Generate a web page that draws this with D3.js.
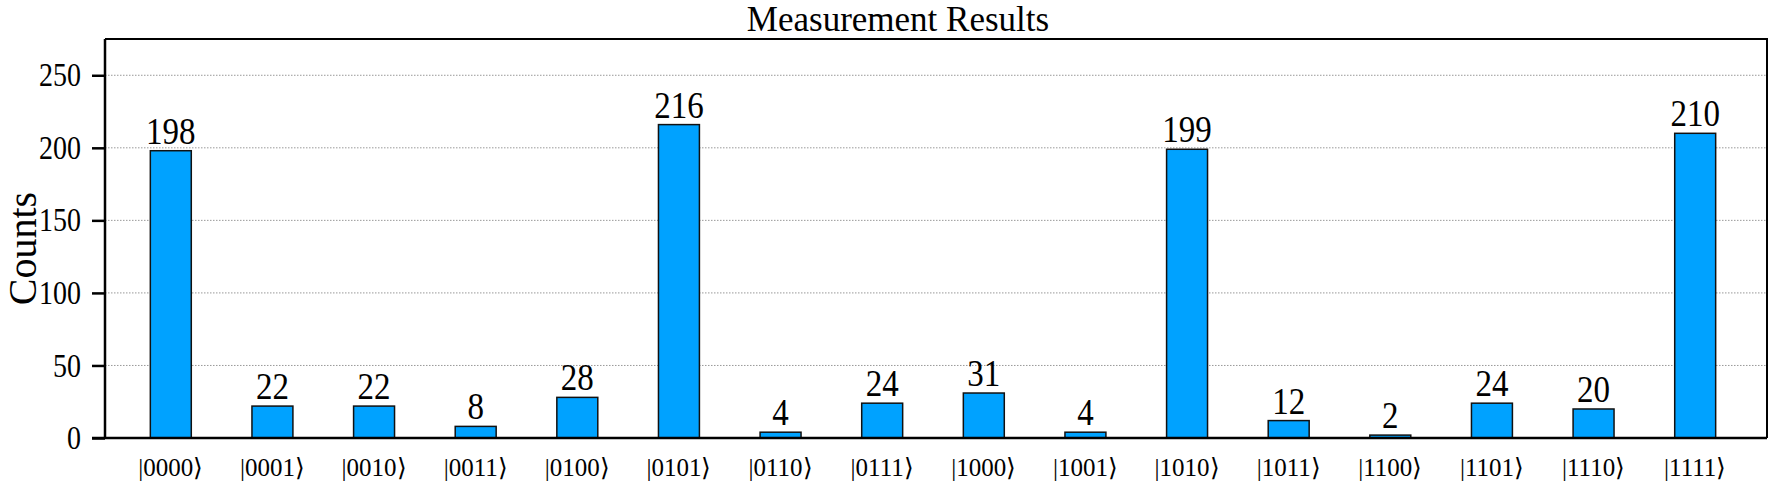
<!DOCTYPE html>
<html><head><meta charset="utf-8">
<script src="https://cdn.jsdelivr.net/npm/d3@7"></script>
<style>body{margin:0;background:#fff}svg{display:block}text{font-family:"Liberation Serif","Times New Roman",serif}</style>
</head><body><svg id="c" width="1770" height="484"></svg>
<script>
const categories = ["0000","0001","0010","0011","0100","0101","0110","0111","1000","1001","1010","1011","1100","1101","1110","1111"];
const counts = [198,22,22,8,28,216,4,24,31,4,199,12,2,24,20,210];
const yTicks = [0,50,100,150,200,250];
const title = "Measurement Results";
const yLabel = "Counts";

const svg = d3.select("#c");
const L = 105, R = 1767, T = 39, B = 438;
const x = d3.scaleBand().domain(categories).range([120, 1746]).paddingInner(0.597).paddingOuter(0.2985);
const y = d3.scaleLinear().domain([0, 275]).range([B, T]);
const SY = 1.13;

// grid
svg.append("g").selectAll("line").data(yTicks.filter(d => d > 0)).join("line")
  .attr("x1", L).attr("x2", R).attr("y1", d => y(d)).attr("y2", d => y(d))
  .attr("stroke", "#999").attr("stroke-width", 1).attr("stroke-dasharray", "1.5,1.5");

// bars
svg.append("g").selectAll("rect").data(counts).join("rect")
  .attr("x", (d, i) => x(categories[i])).attr("width", x.bandwidth())
  .attr("y", d => y(d)).attr("height", d => B - y(d))
  .attr("fill", "#00A2FF").attr("stroke", "#111").attr("stroke-width", 1.5);

// values
svg.append("g").selectAll("text").data(counts).join("text")
  .attr("transform", (d, i) => `translate(${x(categories[i]) + x.bandwidth() / 2},${y(d) - 7}) scale(1,${SY})`)
  .attr("text-anchor", "middle").attr("font-size", 33).attr("fill", "#000").text(d => d);

// frame top/right
svg.append("path").attr("d", `M${L},${T}H${R}V${B}`).attr("fill", "none").attr("stroke", "#000").attr("stroke-width", 2);

// y axis
const ya = svg.append("g").attr("transform", `translate(${L},0)`)
  .call(d3.axisLeft(y).tickValues(yTicks).tickSize(13).tickPadding(11));
ya.select(".domain").attr("d", `M0,${T}V${B}`).attr("stroke-width", 2.5);
ya.selectAll(".tick line").attr("stroke-width", 2.5);
ya.selectAll(".tick text").attr("font-size", 28).attr("font-family", "Liberation Serif").attr("fill", "#000")
  .attr("transform", `scale(1,${SY + 0.05})`);

// x axis
const xa = svg.append("g").attr("transform", `translate(0,${B})`)
  .call(d3.axisBottom(x).tickSize(0).tickPadding(20).tickFormat(d => "|" + d + "\u27E9"));
xa.select(".domain").attr("d", `M${L - 13},0H${R}`).attr("stroke-width", 2.5);
xa.selectAll(".tick text").attr("font-size", 25).attr("font-family", "Liberation Serif").attr("fill", "#000");

// title
svg.append("text").attr("x", 898).attr("y", 31).attr("text-anchor", "middle").attr("font-size", 35).text(title);
// y label
svg.append("text").attr("transform", `translate(36,${(T + B) / 2 + 10}) rotate(-90)`).attr("text-anchor", "middle")
  .attr("font-size", 40).text(yLabel);
</script></body></html>
